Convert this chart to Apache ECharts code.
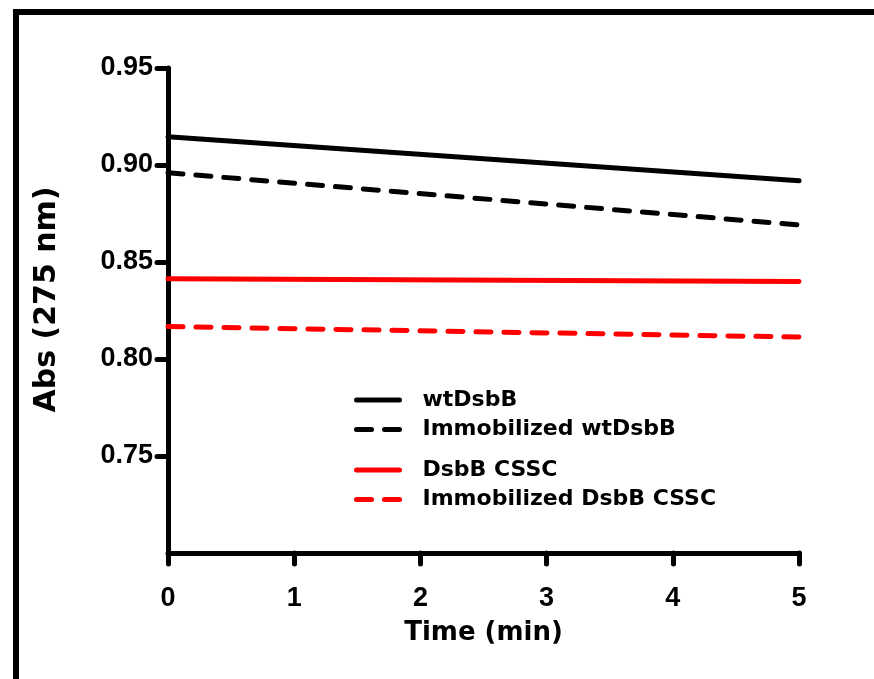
<!DOCTYPE html>
<html>
<head>
<meta charset="utf-8">
<script src="https://cdn.jsdelivr.net/npm/echarts@6/dist/echarts.min.js"></script>
<style>
html,body{margin:0;padding:0;background:#fff;}
#chart{width:874px;height:679px;}
</style>
</head>
<body>
<div id="chart"></div>
<script>
// Data
var times = [0, 5];
var wtDsbB = [0.9146, 0.8919];
var immobWtDsbB = [0.8960, 0.8691];
var dsbBCSSC = [0.8414, 0.8399];
var immobDsbBCSSC = [0.8167, 0.8113];
var yTicks = [0.75, 0.80, 0.85, 0.90, 0.95];
var seriesNames = ['wtDsbB', 'Immobilized wtDsbB', 'DsbB CSSC', 'Immobilized DsbB CSSC'];

function pairs(xs, ys) { return xs.map(function (x, i) { return [x, ys[i]]; }); }

var chart = echarts.init(document.getElementById('chart'));
function mkSeries(name, ys, color, dashed) {
  return {
    name: name, type: 'line', data: pairs(times, ys), symbol: 'none',
    itemStyle: { color: color },
    lineStyle: { color: color, width: 5, type: dashed ? [15, 13] : 'solid', cap: 'round' },
    silent: true, animation: false
  };
}
function mkLegend(top, names) {
  return {
    show: true, orient: 'vertical', left: 349, top: top,
    itemWidth: 43, itemHeight: 14, itemGap: 5.5,
    selectedMode: false,
    data: names,
    itemStyle: { opacity: 0 },
    lineStyle: { width: 5, type: 'inherit', cap: 'round' },
    textStyle: { fontFamily: 'DejaVu Sans', fontWeight: 'bold', fontSize: 22, color: '#000', lineHeight: 24, padding: [0, 0, 0, 18] }
  };
}
var option = {
  animation: false,
  backgroundColor: '#fff',
  grid: { left: 168, right: 75, top: 68, bottom: 126, containLabel: false },
  legend: [
    mkLegend(383, [seriesNames[0], seriesNames[1]]),
    mkLegend(453, [seriesNames[2], seriesNames[3]])
  ],
  xAxis: {
    type: 'value', min: 0, max: 5, interval: 1,
    name: 'Time (min)', nameLocation: 'middle', nameGap: 67,
    nameTextStyle: { fontFamily: 'DejaVu Sans', fontWeight: 'bold', fontSize: 26, color: '#000' },
    axisLine: { show: true, lineStyle: { color: '#000', width: 5, cap: 'round' } },
    axisTick: { show: true, length: 11, inside: false, lineStyle: { color: '#000', width: 5, cap: 'round' } },
    axisLabel: { margin: 32, fontFamily: 'Liberation Sans', fontWeight: 'bold', fontSize: 27, color: '#000' },
    splitLine: { show: false }
  },
  yAxis: {
    type: 'value', min: 0.70, max: 0.95, interval: 0.05,
    name: 'Abs (275 nm)', nameLocation: 'middle', nameGap: 106,
    nameTextStyle: { fontFamily: 'DejaVu Sans', fontWeight: 'bold', fontSize: 30, color: '#000', padding: [0, 0, 0, 22] },
    axisLine: { show: true, lineStyle: { color: '#000', width: 5, cap: 'round' } },
    axisTick: { show: true, length: 11, inside: false, lineStyle: { color: '#000', width: 5, cap: 'round' }, customValues: yTicks },
    axisLabel: { margin: 15, fontFamily: 'Liberation Sans', fontWeight: 'bold', fontSize: 27, color: '#000', customValues: yTicks,
      formatter: function (v) { return v.toFixed(2); } },
    splitLine: { show: false }
  },
  graphic: [
    { type: 'rect', shape: { x: 13, y: 9, width: 861, height: 6 }, style: { fill: '#000' }, silent: true },
    { type: 'rect', shape: { x: 13, y: 9, width: 6, height: 670 }, style: { fill: '#000' }, silent: true }
  ],
  series: [
    mkSeries(seriesNames[0], wtDsbB, '#000000', false),
    mkSeries(seriesNames[1], immobWtDsbB, '#000000', true),
    mkSeries(seriesNames[2], dsbBCSSC, '#ff0000', false),
    mkSeries(seriesNames[3], immobDsbBCSSC, '#ff0000', true)
  ]
};
chart.setOption(option);
</script>
</body>
</html>
